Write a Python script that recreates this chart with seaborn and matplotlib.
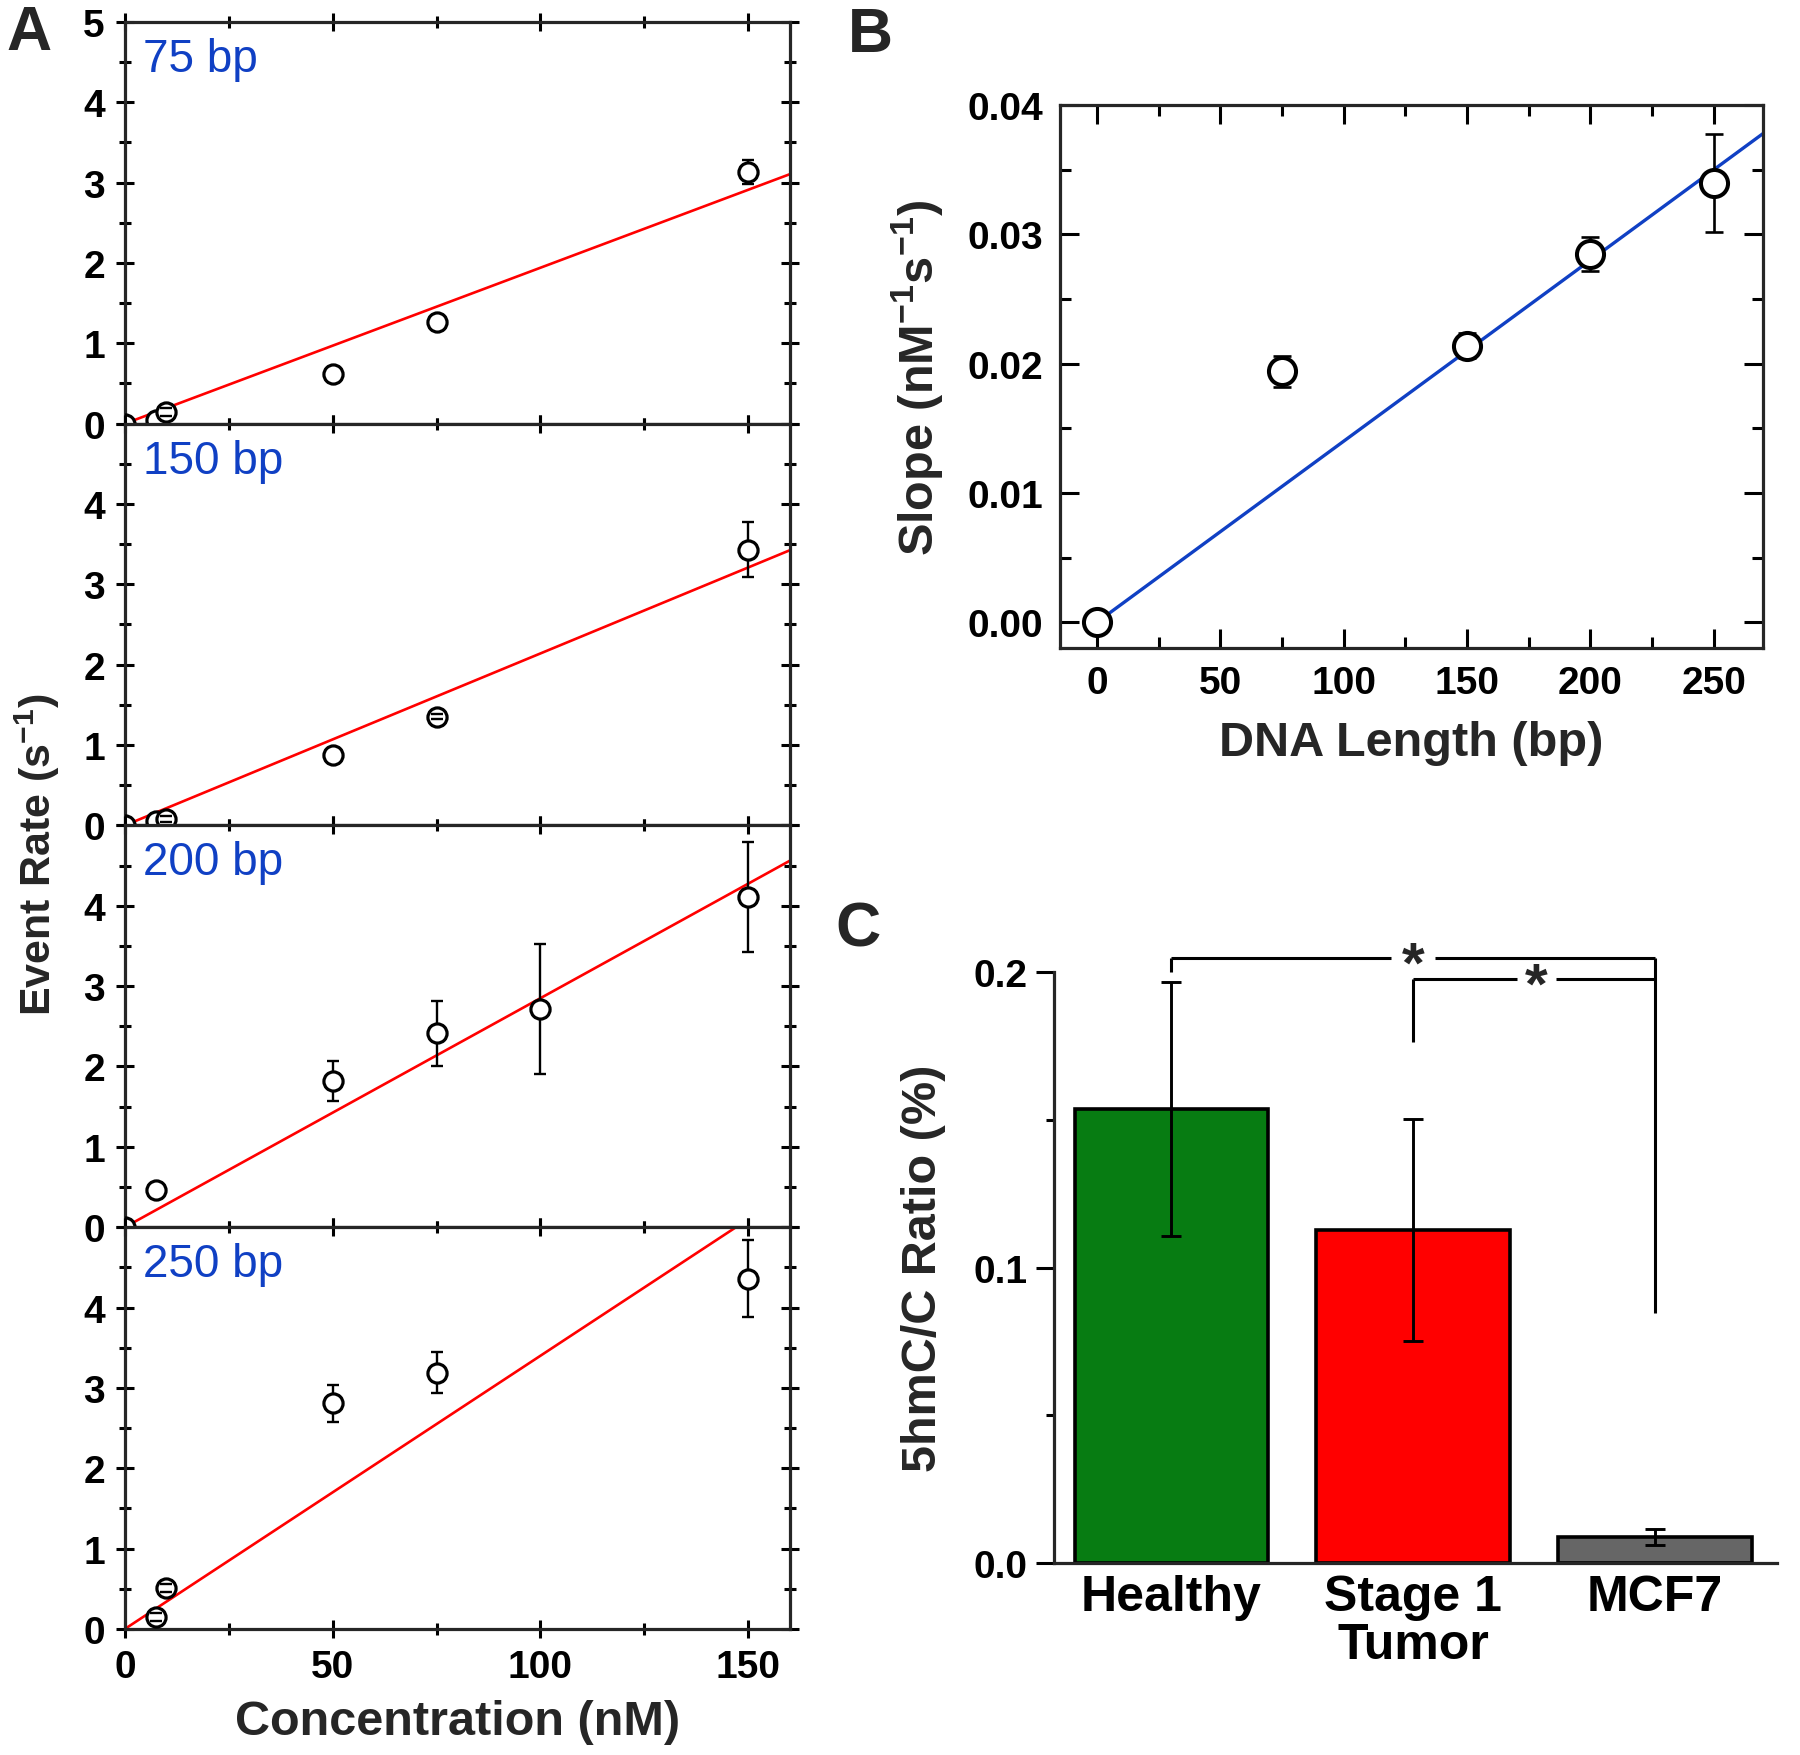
import numpy as np
import pandas as pd
import matplotlib
matplotlib.use('Agg')
import matplotlib.pyplot as plt
import seaborn as sns
from matplotlib.ticker import MultipleLocator, FormatStrFormatter

# ---- values ----
# panel A: event rate vs concentration, one panel per DNA length
lengths = ['75 bp', '150 bp', '200 bp', '250 bp']

conc_75 = [0, 7.5, 10, 50, 75, 150]
rate_75 = [0.0, 0.04, 0.15, 0.62, 1.26, 3.13]
err_75 = [0, 0, 0.05, 0, 0, 0.15]

conc_150 = [0, 7.5, 10, 50, 75, 150]
rate_150 = [0.0, 0.06, 0.08, 0.88, 1.35, 3.43]
err_150 = [0, 0, 0.04, 0, 0.03, 0.34]

conc_200 = [0, 7.5, 50, 75, 100, 150]
rate_200 = [0.0, 0.46, 1.82, 2.41, 2.71, 4.11]
err_200 = [0, 0, 0.25, 0.40, 0.81, 0.68]

conc_250 = [7.5, 10, 50, 75, 150]
rate_250 = [0.15, 0.51, 2.81, 3.19, 4.36]
err_250 = [0.05, 0.05, 0.23, 0.26, 0.48]

# panel B: fitted slope vs DNA length
dna_length = [0, 75, 150, 200, 250]
slope = [0.0, 0.0194, 0.0214, 0.0285, 0.0340]
slope_err = [0, 0.0012, 0.0010, 0.0013, 0.0038]
fit_x = [0, 270]
fit_y = [0.0, 0.0378]

# panel C: 5hmC/C ratio
groups = ['Healthy', 'Stage 1\nTumor', 'MCF7']
ratio = [0.1537, 0.1127, 0.0088]
ratio_err = [0.043, 0.0375, 0.0028]
bar_colors = ['#077c12', '#ff0000', '#666666']

panel_a = [(conc_75, rate_75, err_75), (conc_150, rate_150, err_150),
           (conc_200, rate_200, err_200), (conc_250, rate_250, err_250)]

sns.set_theme(style='ticks')
plt.rcParams['font.family'] = ['Liberation Sans', 'DejaVu Sans']
plt.rcParams['mathtext.fontset'] = 'custom'
plt.rcParams['mathtext.rm'] = 'Liberation Sans'
plt.rcParams['mathtext.bf'] = 'Liberation Sans:bold'
plt.rcParams['axes.linewidth'] = 2.3
plt.rcParams['xtick.color'] = 'black'
plt.rcParams['ytick.color'] = 'black'

BLUE = '#1040c4'
TICK_FS = 28
LABEL_FS = 35


def bold_ticks(ax):
    for lab in ax.get_xticklabels() + ax.get_yticklabels():
        lab.set_fontweight('bold')


fig = plt.figure(figsize=(18, 17.56), dpi=100)

# ---- panel A ----
a_left, a_w = 0.0694, 0.3694
a_bottom, a_h = 0.0718, 0.2288
for i, (conc, rate, err) in enumerate(panel_a):
    ax = fig.add_axes([a_left, a_bottom + (3 - i) * a_h, a_w, a_h])
    xs = [0, 160]
    sns.lineplot(x=xs, y=[x * slope[i + 1] for x in xs], ax=ax, color='#ff0000', lw=1.9, zorder=2)
    df = pd.DataFrame({'conc': conc, 'rate': rate, 'err': err})
    with_err = df[df['err'] > 0]
    ax.errorbar(with_err['conc'], with_err['rate'], yerr=with_err['err'], fmt='none',
                ecolor='black', elinewidth=1.7, capsize=0, zorder=2)
    sns.scatterplot(data=df, x='conc', y='rate', ax=ax, marker='o', s=190, facecolor='white',
                    edgecolor='black', linewidth=2.3, zorder=3)
    ax.errorbar(with_err['conc'], with_err['rate'], yerr=with_err['err'], fmt='none',
                ecolor='black', elinewidth=0, capsize=4.5, capthick=1.7, zorder=4)
    ax.set_xlim(0, 160)
    ax.set_ylim(0, 5)
    ax.xaxis.set_major_locator(MultipleLocator(50))
    ax.xaxis.set_minor_locator(MultipleLocator(25))
    ax.set_yticks([0, 1, 2, 3, 4, 5])
    ax.set_yticklabels(['0', '1', '2', '3', '4', '5' if i == 0 else ''])
    ax.yaxis.set_minor_locator(MultipleLocator(0.5))
    ax.tick_params(which='both', direction='inout', top=True, right=True, width=2.2,
                   labelsize=TICK_FS, pad=8)
    ax.tick_params(which='major', length=13)
    ax.tick_params(which='minor', length=8)
    ax.set_ylabel('')
    if i < 3:
        ax.tick_params(labelbottom=False)
        ax.set_xlabel('')
    else:
        ax.set_xlabel('Concentration (nM)', fontsize=LABEL_FS, fontweight='bold', labelpad=10)
    bold_ticks(ax)
    ax.text(0.027, 0.878, lengths[i], transform=ax.transAxes, color=BLUE, fontsize=33,
            va='baseline')

fig.text(37 / 1800, 0.513, r'Event Rate (s$^{\mathbf{-1}}$)', rotation=90, ha='center',
         va='center', fontsize=31, fontweight='bold')

# ---- panel B ----
axB = fig.add_axes([0.5889, 0.6304, 0.3906, 0.3092])
sns.lineplot(x=fit_x, y=fit_y, ax=axB, color=BLUE, lw=2.4, zorder=2)
axB.errorbar(dna_length, slope, yerr=slope_err, fmt='none', ecolor='black', elinewidth=1.9,
             capsize=6.5, capthick=1.9, zorder=2)
sns.scatterplot(x=dna_length, y=slope, ax=axB, marker='o', s=380, facecolor='white',
                edgecolor='black', linewidth=2.9, zorder=3)
axB.set_xlim(-15, 270)
axB.set_ylim(-0.002, 0.04)
axB.xaxis.set_major_locator(MultipleLocator(50))
axB.xaxis.set_minor_locator(MultipleLocator(25))
axB.yaxis.set_major_locator(MultipleLocator(0.01))
axB.yaxis.set_minor_locator(MultipleLocator(0.005))
axB.yaxis.set_major_formatter(FormatStrFormatter('%.2f'))
axB.tick_params(which='both', direction='in', top=True, right=True, width=2.2,
                labelsize=TICK_FS, pad=12)
axB.tick_params(which='major', length=14)
axB.tick_params(which='minor', length=8)
axB.set_xlabel('DNA Length (bp)', fontsize=LABEL_FS, fontweight='bold', labelpad=14)
axB.set_ylabel(r'Slope (nM$^{\mathbf{-1}}$s$^{\mathbf{-1}}$)', fontsize=LABEL_FS,
               fontweight='bold', labelpad=16)
bold_ticks(axB)

# ---- panel C ----
axC = fig.add_axes([0.5856, 0.1093, 0.4017, 0.3366])
sns.barplot(x=groups, y=ratio, hue=groups, palette=bar_colors, legend=False, ax=axC,
            edgecolor='black', linewidth=2.6, width=0.8, saturation=1, zorder=2)
axC.errorbar(range(len(groups)), ratio, yerr=ratio_err, fmt='none', ecolor='black',
             elinewidth=2.1, capsize=7, capthick=2.1, zorder=3)
axC.set_xlim(-0.485, 2.505)
axC.set_ylim(0, 0.2)
axC.spines['top'].set_visible(False)
axC.spines['right'].set_visible(False)
axC.set_yticks([0, 0.1, 0.2])
axC.yaxis.set_major_formatter(FormatStrFormatter('%.1f'))
axC.set_yticks([0.05, 0.15], minor=True)
axC.tick_params(axis='y', which='major', direction='out', length=13, width=2.2,
                labelsize=TICK_FS, pad=6)
axC.tick_params(axis='y', which='minor', direction='out', length=6, width=2.2)
axC.tick_params(axis='x', length=0, pad=8)
for lab in axC.get_xticklabels():
    lab.set_fontsize(36)
    lab.set_linespacing(1.05)
bold_ticks(axC)
axC.set_xlabel('')
axC.set_ylabel('5hmC/C Ratio (%)', fontsize=LABEL_FS, fontweight='bold', labelpad=20)

# significance brackets
br_kw = dict(color='black', lw=2.2, clip_on=False, solid_capstyle='butt')
y1, y2 = 0.2047, 0.1975
axC.plot([0, 0], [0.2, y1], **br_kw)
axC.plot([0, 0.91], [y1, y1], **br_kw)
axC.plot([1.09, 2], [y1, y1], **br_kw)
axC.plot([2, 2], [y1, 0.0846], **br_kw)
axC.plot([1, 1], [0.1764, y2], **br_kw)
axC.plot([1, 1.43], [y2, y2], **br_kw)
axC.plot([1.59, 2], [y2, y2], **br_kw)
for xs_, ys_ in [(1, y1), (1.51, y2)]:
    axC.annotate('*', xy=(xs_, ys_), xytext=(0, -17), textcoords='offset points',
                 ha='center', va='baseline', fontsize=42, fontweight='bold',
                 annotation_clip=False)

# panel letters
for letter, (px, py) in {'A': (29, 33), 'B': (870, 36), 'C': (858, 930)}.items():
    fig.text(px / 1800, 1 - py / 1756, letter, ha='center', va='center', fontsize=45,
             fontweight='bold')

fig.savefig('out.png', dpi=100, facecolor='white')
